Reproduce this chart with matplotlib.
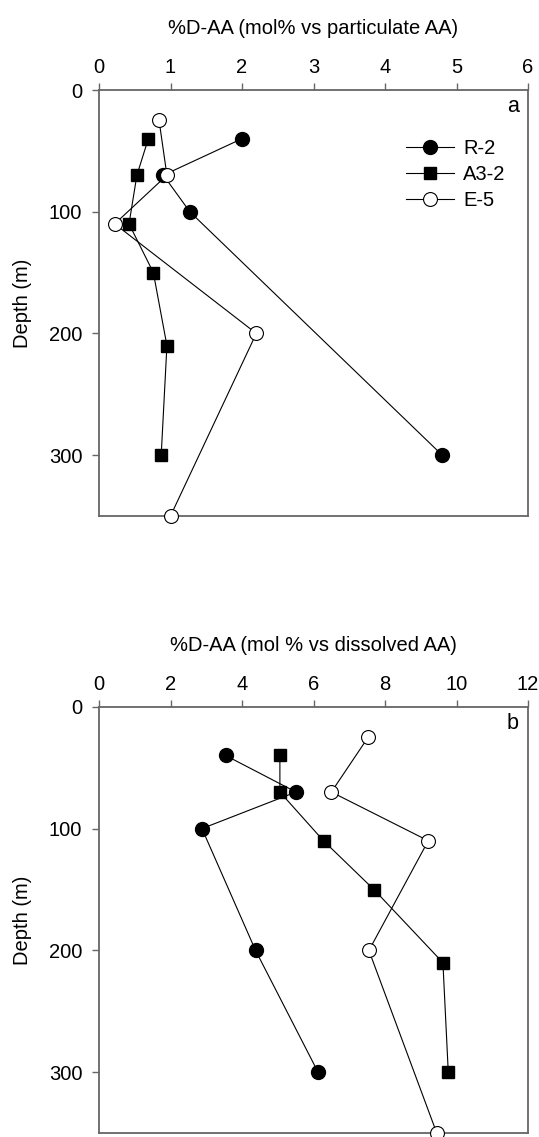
import matplotlib
matplotlib.use("Agg")
import matplotlib.pyplot as plt

plt.rcParams['font.family'] = ['Liberation Sans', 'DejaVu Sans']

# ---- Data: panel a (%D-AA vs particulate AA) ----
a_r2_x = [2.0, 0.90, 1.27, 4.80]
a_r2_d = [40, 70, 100, 300]
a_a32_x = [0.69, 0.53, 0.42, 0.76, 0.95, 0.87]
a_a32_d = [40, 70, 110, 150, 210, 300]
a_e5_x = [0.84, 0.95, 0.22, 2.20, 1.00]
a_e5_d = [25, 70, 110, 200, 350]

# ---- Data: panel b (%D-AA vs dissolved AA) ----
b_r2_x = [3.54, 5.51, 2.88, 4.38, 6.13]
b_r2_d = [40, 70, 100, 200, 300]
b_a32_x = [5.06, 5.06, 6.28, 7.69, 9.62, 9.77]
b_a32_d = [40, 70, 110, 150, 210, 300]
b_e5_x = [7.53, 6.50, 9.21, 7.55, 9.45]
b_e5_d = [25, 70, 110, 200, 350]

labels = ["R-2", "A3-2", "E-5"]
a_xticks = [0, 1, 2, 3, 4, 5, 6]
b_xticks = [0, 2, 4, 6, 8, 10, 12]
yticks = [0, 100, 200, 300]

W, H = 539, 1137
fig = plt.figure(figsize=(W / 100, H / 100), dpi=100)

left, right = 99 / W, 528 / W
def axes_rect(top_px, bot_px):
    return [left, 1 - bot_px / H, right - left, (bot_px - top_px) / H]

ax_a = fig.add_axes(axes_rect(90, 516))
ax_b = fig.add_axes(axes_rect(706.7, 1133.3))

FS = 14.5
spine_col = '#666666'
styles = [
    dict(marker='o', markersize=10, markerfacecolor='black', markeredgecolor='black'),
    dict(marker='s', markersize=9, markerfacecolor='black', markeredgecolor='black'),
    dict(marker='o', markersize=10, markerfacecolor='white', markeredgecolor='black', markeredgewidth=0.8),
]

def draw(ax, series, xmax, xticks, xlabel, letter, legend=False):
    for (x, d), st, lab in zip(series, styles, labels):
        ax.plot(x, d, color='black', linewidth=0.8, label=lab, clip_on=False, zorder=3, **st)
    ax.set_xlim(0, xmax)
    ax.set_ylim(350, 0)
    ax.xaxis.tick_top()
    ax.xaxis.set_label_position('top')
    ax.set_xticks(xticks)
    ax.set_yticks(yticks)
    ax.set_xlabel(xlabel, fontsize=FS, labelpad=17)
    ax.set_ylabel('Depth (m)', fontsize=FS, labelpad=12)
    ax.tick_params(axis='x', direction='out', length=5, width=1, color=spine_col,
                   labelsize=FS, pad=4.5)
    ax.tick_params(axis='y', direction='out', length=5, width=1, color=spine_col,
                   labelsize=FS, pad=7)
    for s in ax.spines.values():
        s.set_color(spine_col)
        s.set_linewidth(1.3)
    ax.text(0.978, 0.961, letter, transform=ax.transAxes, ha='right', va='center',
            fontsize=FS + 1)
    if legend:
        ax.legend(loc='upper left', bbox_to_anchor=(0.715, 0.885), frameon=False,
                  fontsize=FS, handlelength=2.4, handletextpad=0.45,
                  labelspacing=0.36, borderpad=0, borderaxespad=0)

draw(ax_a, [(a_r2_x, a_r2_d), (a_a32_x, a_a32_d), (a_e5_x, a_e5_d)], 6, a_xticks,
     '%D-AA (mol% vs particulate AA)', 'a', legend=True)
draw(ax_b, [(b_r2_x, b_r2_d), (b_a32_x, b_a32_d), (b_e5_x, b_e5_d)], 12, b_xticks,
     '%D-AA (mol % vs dissolved AA)', 'b')

fig.savefig('out.png', dpi=100)
